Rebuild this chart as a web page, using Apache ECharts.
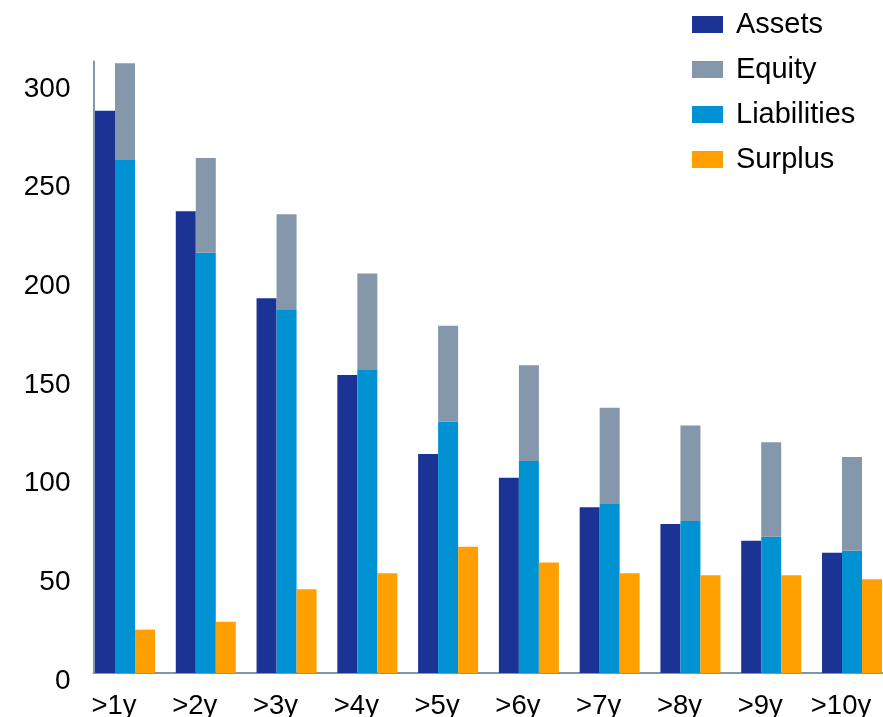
<!DOCTYPE html>
<html>
<head>
<meta charset="utf-8">
<script src="https://cdn.jsdelivr.net/npm/echarts@6/dist/echarts.min.js"></script>
<style>html,body{margin:0;padding:0;background:#fff}#c{width:883px;height:717px}</style>
</head>
<body>
<div id="c"></div>
<script>
var categories = ['>1y', '>2y', '>3y', '>4y', '>5y', '>6y', '>7y', '>8y', '>9y', '>10y'];
var assets      = [285, 234, 190, 151, 111, 99, 84, 75.5, 67, 61];
var liabilities = [260, 213, 184, 154, 127.5, 107.5, 86, 77, 69, 62];
var equity      = [49, 48, 48.5, 48.5, 48.5, 48.5, 48.5, 48.5, 48, 47.5];
var surplus     = [22, 26, 42.5, 50.5, 64, 56, 50.5, 49.5, 49.5, 47.5];
var yMin = 0, yMax = 310, yStep = 50;

var FONT = "'Liberation Sans', Arial, sans-serif";
var AXIS_COLOR = '#8096aa';
var chart = echarts.init(document.getElementById('c'), null, {renderer: 'canvas'});
var gridTop = 61.4, gridBottom = 44;
chart.setOption({
  animation: false,
  textStyle: {fontFamily: FONT},
  legend: {
    orient: 'vertical',
    left: 692,
    top: 10,
    padding: 0,
    icon: 'rect',
    itemWidth: 31,
    itemHeight: 17,
    itemGap: 16,
    data: ['Assets', 'Equity', 'Liabilities', 'Surplus'],
    textStyle: {fontSize: 29, lineHeight: 27, color: '#000', fontFamily: FONT, padding: [0, 0, 0, 8]}
  },
  grid: [
    {left: 125, right: 31, top: gridTop, bottom: gridBottom, containLabel: false, outerBoundsMode: 'none'},
    {left: 93.5, right: 0, top: gridTop, bottom: gridBottom, containLabel: false, outerBoundsMode: 'none'}
  ],
  xAxis: [
    {
      type: 'category', gridIndex: 0, data: categories, boundaryGap: false,
      axisLine: {show: false}, axisTick: {show: false}, splitLine: {show: false},
      axisLabel: {fontSize: 27.5, color: '#000', margin: 19, fontFamily: FONT, padding: [0, 22, 0, 0]}
    },
    {
      type: 'value', gridIndex: 1, min: 0, max: 1,
      axisLine: {show: true, lineStyle: {color: AXIS_COLOR, width: 2}},
      axisTick: {show: false}, axisLabel: {show: false}, splitLine: {show: false}
    }
  ],
  yAxis: [
    {
      type: 'value', gridIndex: 0, min: yMin, max: yMax, interval: yStep,
      show: false, splitLine: {show: false}
    },
    {
      type: 'value', gridIndex: 1, min: yMin, max: yMax, interval: yStep,
      axisLine: {show: true, lineStyle: {color: AXIS_COLOR, width: 2}},
      axisTick: {show: false}, splitLine: {show: false},
      axisLabel: {fontSize: 28, color: '#000', margin: 23, fontFamily: FONT, showMaxLabel: false,
                  verticalAlign: 'top', lineHeight: 16}
    }
  ],
  series: [
    {name: 'Assets', type: 'bar', xAxisIndex: 0, yAxisIndex: 0, data: assets, barWidth: 20, barGap: '0%',
     itemStyle: {color: '#1a3394'}},
    {name: 'Liabilities', type: 'bar', stack: 'le', xAxisIndex: 0, yAxisIndex: 0, data: liabilities, barWidth: 20, barGap: '0%',
     itemStyle: {color: '#0092d2'}},
    {name: 'Equity', type: 'bar', stack: 'le', xAxisIndex: 0, yAxisIndex: 0, data: equity, barWidth: 20, barGap: '0%',
     itemStyle: {color: '#8497ab'}},
    {name: 'Surplus', type: 'bar', xAxisIndex: 0, yAxisIndex: 0, data: surplus, barWidth: 20, barGap: '0%',
     itemStyle: {color: '#ffa000'}}
  ]
});
</script>
</body>
</html>
